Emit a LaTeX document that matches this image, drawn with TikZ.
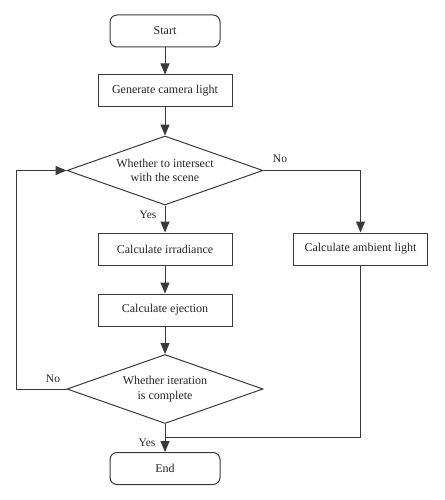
\documentclass[tikz,border=0pt]{standalone}
\usepackage{fontspec}
\setmainfont{Liberation Serif}
\usetikzlibrary{shapes.geometric,arrows.meta}
\definecolor{ln}{HTML}{3A3A3A}
\begin{document}
\begin{tikzpicture}[x=1pt,y=-1pt,
  every node/.style={font=\fontsize{12}{14.5}\selectfont, text=black!85},
  term/.style={draw=ln, line width=1pt, rounded corners=7pt, minimum width=110pt, minimum height=32pt, inner sep=0pt},
  proc/.style={draw=ln, line width=1pt, minimum width=134pt, minimum height=32pt, inner sep=0pt},
  dec/.style={draw=ln, line width=1pt, diamond, aspect=2.84, minimum width=196pt, minimum height=69pt, inner sep=0pt, align=center},
  conn/.style={draw=ln, line width=1pt},
  arr/.style={conn, -{Triangle[length=11pt,width=9pt]}},
  lbl/.style={font=\fontsize{11.5}{13}\selectfont}]
\useasboundingbox (0,0) rectangle (444,500);
\node[term] (start) at (165,31) {Start};
\node[proc] (gen) at (165,91) {Generate camera light};
\node[dec] (d1) at (165,170.5) {Whether to intersect\\with the scene};
\node[proc] (irr) at (165,249) {Calculate irradiance};
\node[proc] (amb) at (360.5,249) {Calculate ambient light};
\node[proc] (ej) at (165,310) {Calculate ejection};
\node[dec] (d2) at (165,389) {Whether iteration\\is complete};
\node[term] (end) at (165,468.5) {End};
\coordinate (loopB) at (16,389);
\coordinate (loopT) at (16,170.5);
\coordinate (noR) at (360.5,170.5);
\coordinate (mergeR) at (360.5,437);
\coordinate (merge) at (165,437);
\draw[arr] (start) -- (gen);
\draw[arr] (gen) -- (d1);
\draw[arr] (d1) -- (irr);
\draw[arr] (irr) -- (ej);
\draw[arr] (ej) -- (d2);
\draw[arr] (d2.west) -- (loopB) -- (loopT) -- (d1.west);
\draw[arr] (d1.east) -- (noR) -- (amb.north);
\draw[conn] (amb.south) -- (mergeR) -- (merge);
\draw[arr] (d2.south) -- (end.north);
\node[lbl] (no1) at (280,159) {No};
\node[lbl] (yes1) at (148,215) {Yes};
\node[lbl] (no2) at (53,379) {No};
\node[lbl] (yes2) at (147,443) {Yes};
\end{tikzpicture}
\end{document}
